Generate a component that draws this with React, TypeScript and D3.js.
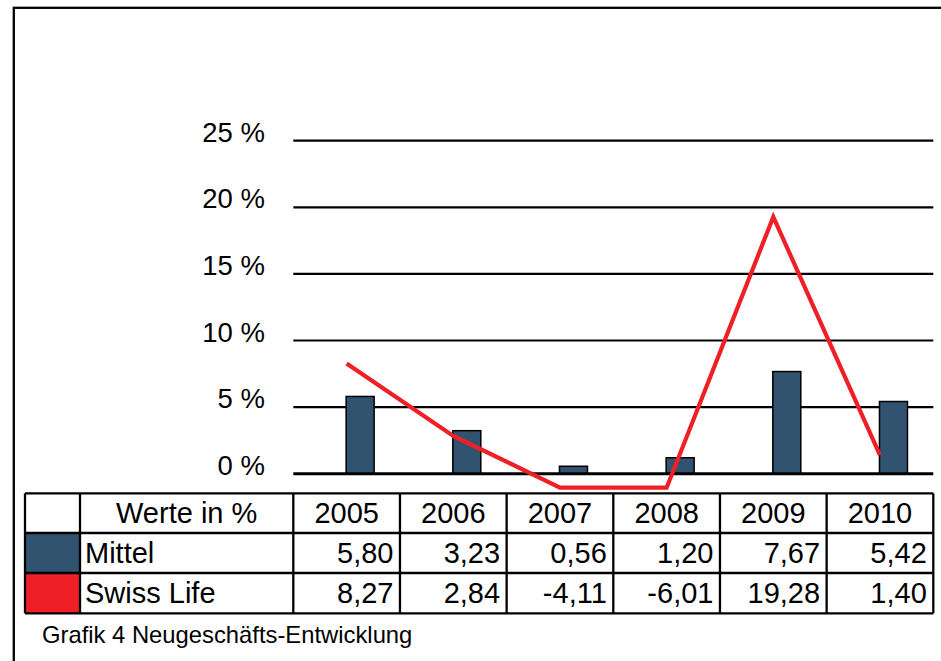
import React from 'react';
import * as d3 from 'd3';

const YEARS = ['2005', '2006', '2007', '2008', '2009', '2010'];
const MITTEL = [5.8, 3.23, 0.56, 1.2, 7.67, 5.42];
const SWISS_LIFE = [8.27, 2.84, -4.11, -6.01, 19.28, 1.4];
const Y_TICKS = [0, 5, 10, 15, 20, 25];
const SERIES_NAMES = ['Mittel', 'Swiss Life'];
const HEADER_LABEL = 'Werte in %';
const CAPTION = 'Grafik 4 Neugeschäfts-Entwicklung';

const W = 941;
const H = 661;
const FONT = '"Liberation Sans", Arial, Helvetica, sans-serif';
const BLUE = '#31536f';
const RED = '#ee2026';

const fmt = (v: number) => v.toFixed(2).replace('.', ',');

export default function App() {
  const x = d3.scaleBand<string>().domain(YEARS).range([293.3, 933.3]).padding(0);
  const y = d3.scaleLinear().domain([-1.05, 25]).range([487.7, 140.7]).clamp(true);
  const bw = x.bandwidth();
  const center = (yr: string) => (x(yr) as number) + bw / 2;

  const line = d3
    .line<number>()
    .x((_, i) => center(YEARS[i]))
    .y((d) => y(d));

  const rowY = [493.3, 533, 573, 613.3];
  const tableLeft = 25;
  const keyRight = 80;
  const tableRight = 933.3;
  const colLines = [tableLeft, keyRight, ...YEARS.map((yr) => x(yr) as number), tableRight];
  const series = [MITTEL, SWISS_LIFE];
  const colors = [BLUE, RED];

  return (
    <svg
      width={W}
      height={H}
      style={{ position: 'absolute', left: 0, top: 0, overflow: 'hidden', background: '#fff' }}
      fontFamily={FONT}
    >
      <rect x={0} y={0} width={W} height={H} fill="#fff" />
      {/* outer frame */}
      <rect x={13.8} y={7.8} width={1000} height={1000} fill="none" stroke="#000" strokeWidth={2.3} />

      {/* grid lines */}
      {Y_TICKS.filter((t) => t !== 0).map((t) => (
        <line key={t} x1={293.3} x2={933.3} y1={y(t)} y2={y(t)} stroke="#000" strokeWidth={2.2} />
      ))}
      {/* y labels */}
      {Y_TICKS.map((t) => (
        <text key={'l' + t} x={265} y={y(t) + 1} textAnchor="end" fontSize={27.5} fill="#000">
          {t + ' %'}
        </text>
      ))}

      {/* bars */}
      {MITTEL.map((v, i) => (
        <rect
          key={'b' + i}
          x={center(YEARS[i]) - 0.5}
          y={y(v)}
          width={28}
          height={y(0) - y(v)}
          fill={BLUE}
          stroke="#000"
          strokeWidth={1.5}
        />
      ))}
      {/* baseline */}
      <line x1={293.3} x2={933.3} y1={y(0)} y2={y(0)} stroke="#000" strokeWidth={3} />

      {/* Swiss Life line */}
      <path d={line(SWISS_LIFE) || ''} fill="none" stroke={RED} strokeWidth={4.2} strokeLinejoin="miter" />

      {/* table legend key cells */}
      {colors.map((c, i) => (
        <rect key={'k' + i} x={tableLeft} y={rowY[i + 1]} width={keyRight - tableLeft} height={rowY[i + 2] - rowY[i + 1]} fill={c} />
      ))}

      {/* table lines */}
      {rowY.map((ry, i) => (
        <line key={'h' + i} x1={tableLeft} x2={tableRight} y1={ry} y2={ry} stroke="#000" strokeWidth={2.3} />
      ))}
      {colLines.map((cx, i) => (
        <line key={'v' + i} x1={cx} x2={cx} y1={rowY[0]} y2={rowY[3]} stroke="#000" strokeWidth={2.3} />
      ))}

      {/* header row */}
      <text x={(keyRight + 293.3) / 2} y={523.3} textAnchor="middle" fontSize={29} fill="#000">
        {HEADER_LABEL}
      </text>
      {YEARS.map((yr) => (
        <text key={'y' + yr} x={center(yr)} y={523.3} textAnchor="middle" fontSize={29} fill="#000">
          {yr}
        </text>
      ))}

      {/* data rows */}
      {series.map((s, r) => (
        <g key={'r' + r}>
          <text x={85} y={rowY[r + 1] + 30} fontSize={29} fill="#000">
            {SERIES_NAMES[r]}
          </text>
          {s.map((v, i) => (
            <text
              key={'c' + i}
              x={(x(YEARS[i]) as number) + bw - 6.5}
              y={rowY[r + 1] + 30}
              textAnchor="end"
              fontSize={29}
              fill="#000"
            >
              {fmt(v)}
            </text>
          ))}
        </g>
      ))}

      {/* caption */}
      <text x={42} y={643} fontSize={23.8} fill="#000">
        {CAPTION}
      </text>
    </svg>
  );
}
